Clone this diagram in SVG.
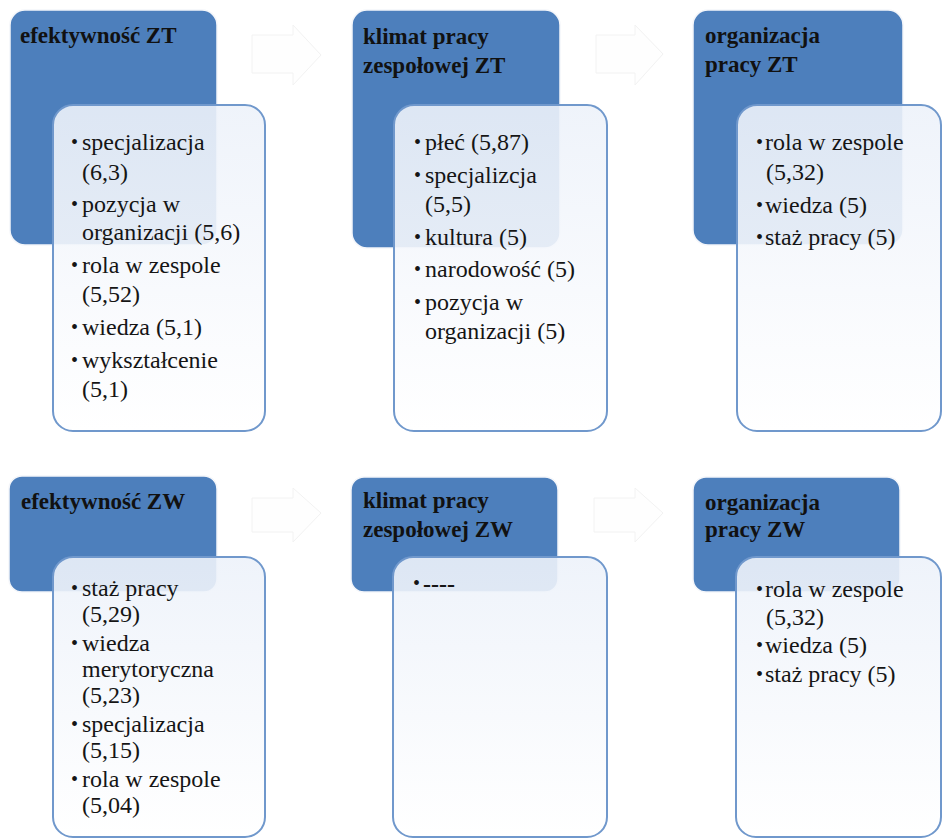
<svg xmlns="http://www.w3.org/2000/svg" width="943" height="840" viewBox="0 0 943 840" font-family="Liberation Serif, Times New Roman, Tinos, Noto Serif, DejaVu Serif, FreeSerif, serif">
<defs>
<linearGradient id="wg" x1="0" y1="0" x2="0" y2="1">
<stop offset="0" stop-color="#edf2fa"/>
<stop offset="1" stop-color="#ffffff"/>
</linearGradient>
</defs>
<style>
.hdr{fill:#4d7fbc;stroke:#f4f6fa;stroke-width:1.5}
.box{fill:url(#wg);fill-opacity:0.9;stroke:#7098cc;stroke-width:2}
.arr{fill:#fefefe;stroke:#f2f2f2;stroke-width:1}
text{fill:#151515}
.ht{font-weight:bold;font-size:23px;fill:#111}
.bt{font-size:24px}
.bb{font-size:24px;font-weight:bold}
.bu{font-size:20px}
</style>
<rect width="943" height="840" fill="#ffffff"/>
<g id="connectors">
<path class="arr" d="M252,35 H293 V25 L321,55 L293,85 V73 H252 Z"/>
<path class="arr" d="M596,35 H635 V25 L663,54 L635,85 V73 H596 Z"/>
<path class="arr" d="M252,498 H293 V488 L321,513 L293,542 V532 H252 Z"/>
<path class="arr" d="M594,498 H635 V488 L663,513 L635,542 V532 H594 Z"/>
</g>
<g id="node-efektywnosc-zt">
<rect class="hdr" x="10" y="10" width="207" height="235" rx="15"/>
<text class="ht" x="20" y="43">efektywność ZT</text>
<rect class="box" x="53" y="105" width="212" height="326" rx="20"/>
<text class="bu" x="71" y="149">•</text><text class="bt" x="82" y="150">specjalizacja</text>
<text class="bt" x="82" y="180">(6,3)</text>
<text class="bu" x="71" y="211">•</text><text class="bt" x="82" y="212">pozycja  w</text>
<text class="bt" x="82" y="240">organizacji (5,6)</text>
<text class="bu" x="71" y="272">•</text><text class="bt" x="82" y="273">rola w zespole</text>
<text class="bt" x="82" y="302">(5,52)</text>
<text class="bu" x="71" y="334">•</text><text class="bt" x="82" y="335">wiedza (5,1)</text>
<text class="bu" x="71" y="367">•</text><text class="bt" x="82" y="368">wykształcenie</text>
<text class="bt" x="82" y="397">(5,1)</text>
</g>
<g id="node-klimat-zt">
<rect class="hdr" x="352" y="10" width="208" height="238" rx="15"/>
<text class="ht" x="363" y="44">klimat pracy</text>
<text class="ht" x="363" y="73">zespołowej ZT</text>
<rect class="box" x="394" y="105" width="213" height="326" rx="20"/>
<text class="bu" x="414" y="149">•</text><text class="bt" x="425" y="150">płeć (5,87)</text>
<text class="bu" x="414" y="182">•</text><text class="bt" x="425" y="183">specjalizcja</text>
<text class="bt" x="425" y="212">(5,5)</text>
<text class="bu" x="414" y="244">•</text><text class="bt" x="425" y="245">kultura (5)</text>
<text class="bu" x="414" y="276">•</text><text class="bt" x="425" y="277">narodowość (5)</text>
<text class="bu" x="414" y="309">•</text><text class="bt" x="425" y="310">pozycja  w</text>
<text class="bt" x="425" y="339">organizacji (5)</text>
</g>
<g id="node-organizacja-zt">
<rect class="hdr" x="693" y="10" width="210" height="235" rx="15"/>
<text class="ht" x="705" y="43">organizacja</text>
<text class="ht" x="705" y="72">pracy ZT</text>
<rect class="box" x="737" y="105" width="204" height="326" rx="20"/>
<text class="bu" x="756" y="149">•</text><text class="bt" x="765" y="150">rola w zespole</text>
<text class="bt" x="766" y="180">(5,32)</text>
<text class="bu" x="756" y="212">•</text><text class="bt" x="765" y="213">wiedza (5)</text>
<text class="bu" x="756" y="244">•</text><text class="bt" x="765" y="245">staż pracy (5)</text>
</g>
<g id="node-efektywnosc-zw">
<rect class="hdr" x="9" y="476" width="208" height="116" rx="13"/>
<text class="ht" x="21" y="509">efektywność ZW</text>
<rect class="box" x="53" y="557" width="212" height="280" rx="20"/>
<text class="bu" x="71" y="595">•</text><text class="bt" x="82" y="596">staż pracy</text>
<text class="bt" x="82" y="622">(5,29)</text>
<text class="bu" x="71" y="650">•</text><text class="bt" x="82" y="651">wiedza</text>
<text class="bt" x="82" y="677">merytoryczna</text>
<text class="bt" x="82" y="703">(5,23)</text>
<text class="bu" x="71" y="731">•</text><text class="bt" x="82" y="732">specjalizacja</text>
<text class="bt" x="82" y="758">(5,15)</text>
<text class="bu" x="71" y="786">•</text><text class="bt" x="82" y="787">rola w zespole</text>
<text class="bt" x="82" y="813">(5,04)</text>
</g>
<g id="node-klimat-zw">
<rect class="hdr" x="351" y="477" width="207" height="115" rx="13"/>
<text class="ht" x="363" y="508">klimat pracy</text>
<text class="ht" x="363" y="537">zespołowej ZW</text>
<rect class="box" x="393" y="557" width="214" height="280" rx="20"/>
<text class="bu" x="413" y="590">•</text><text class="bb" x="423" y="592">----</text>
</g>
<g id="node-organizacja-zw">
<rect class="hdr" x="693" y="477" width="207" height="115" rx="13"/>
<text class="ht" x="705" y="510">organizacja</text>
<text class="ht" x="705" y="537">pracy ZW</text>
<rect class="box" x="736" y="557" width="205" height="280" rx="20"/>
<text class="bu" x="756" y="596">•</text><text class="bt" x="765" y="597">rola w zespole</text>
<text class="bt" x="766" y="625">(5,32)</text>
<text class="bu" x="756" y="652">•</text><text class="bt" x="765" y="653">wiedza (5)</text>
<text class="bu" x="756" y="681">•</text><text class="bt" x="765" y="682">staż pracy (5)</text>
</g>
</svg>
